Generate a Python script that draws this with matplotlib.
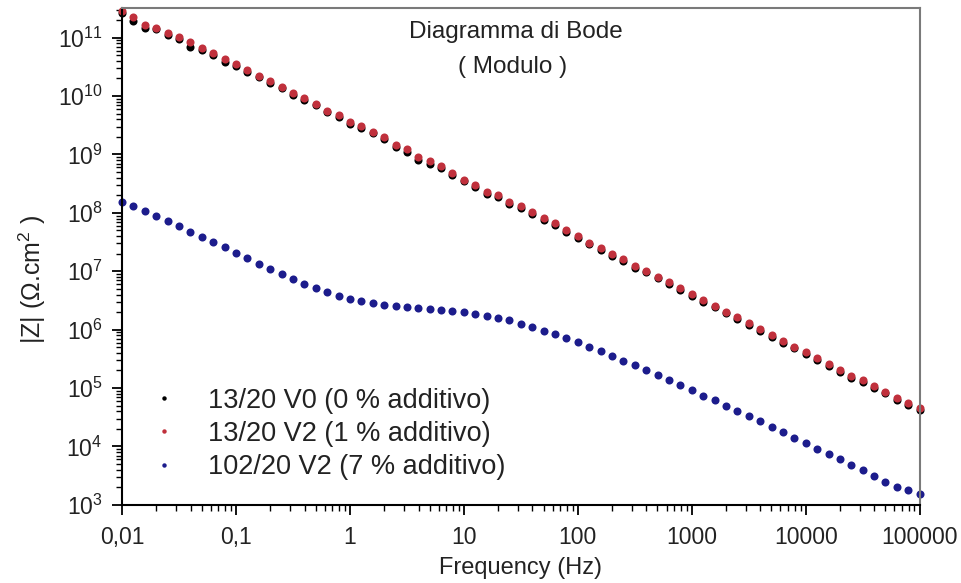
import numpy as np
import matplotlib
matplotlib.use("Agg")
import matplotlib.pyplot as plt
from matplotlib.ticker import LogLocator, FixedLocator, FixedFormatter, NullFormatter

plt.rcParams['font.family'] = ['Liberation Sans', 'DejaVu Sans']
plt.rcParams['mathtext.fontset'] = 'custom'
plt.rcParams['mathtext.rm'] = 'Liberation Sans'
plt.rcParams['mathtext.it'] = 'Liberation Sans:italic'
plt.rcParams['mathtext.bf'] = 'Liberation Sans:bold'

# measurement frequencies (Hz), 10 points per decade
freq = [0.01, 0.01259, 0.01585, 0.01995, 0.02512, 0.03162, 0.03981, 0.05012, 0.0631, 0.07943,
        0.1, 0.1259, 0.1585, 0.1995, 0.2512, 0.3162, 0.3981, 0.5012, 0.631, 0.7943,
        1, 1.259, 1.585, 1.995, 2.512, 3.162, 3.981, 5.012, 6.31, 7.943,
        10, 12.59, 15.85, 19.95, 25.12, 31.62, 39.81, 50.12, 63.1, 79.43,
        100, 125.9, 158.5, 199.5, 251.2, 316.2, 398.1, 501.2, 631, 794.3,
        1000, 1259, 1585, 1995, 2512, 3162, 3981, 5012, 6310, 7943,
        10000, 12590, 15850, 19950, 25120, 31620, 39810, 50120, 63100, 79430,
        100000]

# log10 |Z|
logz_v0 = [11.43, 11.29, 11.16, 11.15, 11.05, 10.98, 10.84, 10.79, 10.70, 10.59,
           10.52, 10.41, 10.32, 10.22, 10.13, 10.02, 9.93, 9.84, 9.72, 9.65,
           9.53, 9.45, 9.36, 9.27, 9.13, 9.05, 8.91, 8.83, 8.76, 8.65,
           8.54, 8.45, 8.33, 8.28, 8.16, 8.08, 7.98, 7.88, 7.79, 7.67,
           7.57, 7.46, 7.37, 7.27, 7.18, 7.06, 6.98, 6.88, 6.78, 6.68,
           6.58, 6.47, 6.38, 6.28, 6.19, 6.08, 5.98, 5.88, 5.78, 5.68,
           5.58, 5.48, 5.38, 5.28, 5.18, 5.10, 5.00, 4.91, 4.80, 4.71,
           4.63]
logz_v2 = [11.45, 11.36, 11.22, 11.17, 11.08, 11.01, 10.93, 10.82, 10.73, 10.63,
           10.55, 10.45, 10.35, 10.25, 10.16, 10.05, 9.96, 9.87, 9.75, 9.68,
           9.56, 9.48, 9.39, 9.30, 9.16, 9.09, 8.96, 8.88, 8.80, 8.68,
           8.57, 8.48, 8.36, 8.31, 8.19, 8.11, 8.01, 7.91, 7.82, 7.70,
           7.60, 7.49, 7.40, 7.30, 7.21, 7.09, 7.01, 6.91, 6.81, 6.71,
           6.61, 6.50, 6.41, 6.31, 6.22, 6.11, 6.01, 5.91, 5.81, 5.71,
           5.61, 5.51, 5.41, 5.31, 5.21, 5.13, 5.03, 4.94, 4.83, 4.74,
           4.66]
logz_102 = [8.19, 8.12, 8.03, 7.95, 7.86, 7.77, 7.68, 7.58, 7.50, 7.41,
            7.31, 7.22, 7.13, 7.04, 6.95, 6.86, 6.78, 6.71, 6.64, 6.58,
            6.53, 6.49, 6.45, 6.42, 6.41, 6.39, 6.37, 6.36, 6.34, 6.32,
            6.30, 6.27, 6.24, 6.20, 6.16, 6.10, 6.04, 5.98, 5.92, 5.86,
            5.79, 5.71, 5.64, 5.55, 5.47, 5.39, 5.31, 5.23, 5.14, 5.05,
            4.97, 4.87, 4.79, 4.70, 4.61, 4.52, 4.43, 4.34, 4.24, 4.15,
            4.06, 3.96, 3.87, 3.78, 3.69, 3.59, 3.49, 3.40, 3.31, 3.26,
            3.19]

labels = ["13/20 V0 (0 % additivo)", "13/20 V2 (1 % additivo)", "102/20 V2 (7 % additivo)"]
colors = ["#000000", "#c0303c", "#1c1c8c"]
xtick_vals = [0.01, 0.1, 1, 10, 100, 1000, 10000, 100000]
xtick_labels = ["0,01", "0,1", "1", "10", "100", "1000", "10000", "100000"]

fig = plt.figure(figsize=(9.61, 5.83), dpi=100)
ax = fig.add_axes([0.127, 0.134, 0.830, 0.852])

for logz, lab, c in zip([logz_v0, logz_v2, logz_102], labels, colors):
    ax.plot(freq, np.power(10.0, logz), 'o', ms=5.8, mfc=c, mec='none',
            label=lab, clip_on=False)

ax.set_xscale('log')
ax.set_yscale('log')
ax.set_xlim(0.01, 100000)
ax.set_ylim(1e3, 3.2e11)

ax.xaxis.set_major_locator(FixedLocator(xtick_vals))
ax.xaxis.set_major_formatter(FixedFormatter(xtick_labels))
ax.xaxis.set_minor_locator(LogLocator(base=10, subs=np.arange(2, 10), numticks=20))
ax.xaxis.set_minor_formatter(NullFormatter())
ax.yaxis.set_major_locator(LogLocator(base=10, numticks=20))
ax.yaxis.set_minor_locator(LogLocator(base=10, subs=np.arange(2, 10), numticks=20))
ax.yaxis.set_minor_formatter(NullFormatter())

ax.tick_params(which='major', direction='out', length=7, width=1.3, labelsize=16.5,
               colors='black', labelcolor='#222222')
ax.tick_params(which='minor', direction='out', length=4, width=1.0)
ax.tick_params(axis='x', pad=8)
ax.tick_params(axis='y', pad=7)
for s in ['left', 'bottom']:
    ax.spines[s].set_linewidth(1.5)
    ax.spines[s].set_color('black')
for s in ['top', 'right']:
    ax.spines[s].set_linewidth(1.5)
    ax.spines[s].set_color('#7a7a7a')

ax.set_xlabel("Frequency (Hz)", fontsize=17, color='#222222', labelpad=6)
ax.set_ylabel("|Z| (Ω.cm$^2$ )", fontsize=18, color='#222222')
ax.yaxis.set_label_coords(-0.093, 0.453)

ax.text(0.494, 0.952, "Diagramma di Bode", transform=ax.transAxes, ha='center', va='center',
        fontsize=17.5, color='#222222')
ax.text(0.49, 0.881, "( Modulo )", transform=ax.transAxes, ha='center', va='center',
        fontsize=17.5, color='#222222')

leg = ax.legend(loc='upper left', bbox_to_anchor=(0.036, 0.236), frameon=False,
                fontsize=19.5, markerscale=0.55, handlelength=1.0, handletextpad=1.1,
                borderpad=0, borderaxespad=0, labelspacing=0.27)
for t in leg.get_texts():
    t.set_color('#222222')

fig.savefig('out.png', dpi=100)
